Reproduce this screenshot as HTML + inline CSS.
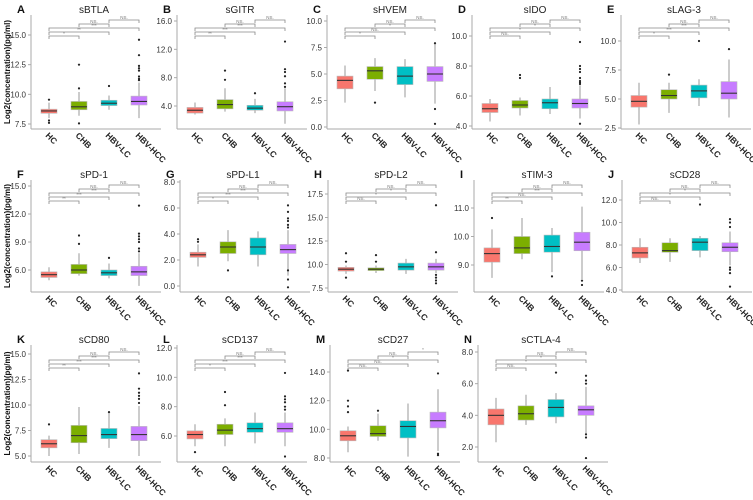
<!DOCTYPE html>
<html><head><meta charset="utf-8">
<style>
html,body{margin:0;padding:0;background:#fff;}
svg{display:block;font-family:"Liberation Sans",sans-serif;}
</style></head>
<body>
<svg id="fig" width="753" height="500" viewBox="0 0 753 500"></svg>
<script>
const categories = ["HC","CHB","HBV-LC","HBV-HCC"];
const colors = ["#F8766D","#7CAE00","#00BFC4","#C77CFF"];
const titles = ["sBTLA","sGITR","sHVEM","sIDO","sLAG-3","sPD-1","sPD-L1","sPD-L2","sTIM-3","sCD28","sCD80","sCD137","sCD27","sCTLA-4"];
const letters = ["A","B","C","D","E","F","G","H","I","J","K","L","M","N"];
const ticks_A=[7.5,10,12.5,15], ticks_B=[4,8,12,16], ticks_C=[0,2.5,5,7.5,10], ticks_D=[4,6,8,10], ticks_E=[2.5,5,7.5,10];
const ticks_F=[6,9,12,15], ticks_G=[0,2,4,6,8], ticks_H=[7.5,10,12.5,15,17.5], ticks_I=[9,10,11], ticks_J=[4,6,8,10,12];
const ticks_K=[5,7.5,10,12.5,15], ticks_L=[6,8,10,12], ticks_M=[8,10,12,14], ticks_N=[2,4,6,8];
const stats_A=[[8.0,8.4,8.6,8.75,9.3],[8.2,8.7,8.95,9.4,10.2],[8.7,9.05,9.25,9.5,9.9],[8.0,9.1,9.4,9.85,11.0]];
const stats_B=[[2.8,3.0,3.4,3.8,4.5],[3.2,3.6,4.2,4.9,6.5],[3.0,3.4,3.7,4.1,5.0],[1.5,3.3,3.9,4.6,6.5]];
const stats_C=[[2.3,3.6,4.4,4.8,5.8],[3.4,4.5,5.3,5.7,6.5],[2.8,4.0,4.8,5.7,6.4],[2.2,4.3,5.0,5.7,7.8]];
const stats_D=[[4.3,4.9,5.15,5.5,5.8],[4.7,5.2,5.4,5.7,5.9],[4.8,5.15,5.55,5.8,6.6],[4.5,5.2,5.5,5.8,6.7]];
const stats_E=[[2.8,4.3,4.8,5.3,6.4],[3.8,5.0,5.3,5.8,6.4],[4.4,5.1,5.7,6.2,6.7],[3.4,5.0,5.5,6.5,8.4]];
const stats_F=[[4.9,5.2,5.5,5.8,6.3],[5.4,5.6,6.0,6.6,7.8],[5.1,5.4,5.7,6.0,6.7],[4.3,5.4,5.8,6.4,7.8]];
const stats_G=[[1.5,2.2,2.4,2.6,3.2],[1.9,2.5,3.0,3.4,4.3],[1.5,2.4,3.0,3.7,4.2],[0.8,2.5,2.8,3.2,4.3]];
const stats_H=[[9.0,9.3,9.5,9.7,9.9],[9.1,9.35,9.5,9.65,9.9],[9.0,9.4,9.75,10.15,10.6],[9.1,9.4,9.75,10.15,10.6]];
const stats_I=[[8.55,9.1,9.4,9.6,10.25],[9.2,9.4,9.6,10.0,10.65],[8.75,9.45,9.65,10.05,10.3],[8.5,9.5,9.8,10.15,11.05]];
const stats_J=[[6.4,6.85,7.3,7.8,8.6],[6.5,7.35,7.5,8.2,8.6],[6.9,7.5,8.25,8.6,8.8],[6.2,7.4,7.8,8.2,9.2]];
const stats_K=[[5.0,5.8,6.2,6.6,7.0],[5.2,6.3,7.0,8.0,9.8],[5.8,6.7,7.1,7.7,9.2],[5.0,6.5,7.1,7.9,9.9]];
const stats_L=[[5.3,5.8,6.1,6.35,6.8],[5.3,6.1,6.4,6.8,7.2],[5.5,6.25,6.5,6.9,7.6],[5.3,6.25,6.5,6.9,7.6]];
const stats_M=[[8.4,9.2,9.55,9.9,10.2],[9.2,9.5,9.7,10.25,11.1],[8.1,9.4,10.2,10.6,11.8],[8.5,10.1,10.6,11.2,12.8]];
const stats_N=[[2.3,3.4,4.0,4.4,5.1],[3.4,3.7,4.1,4.6,5.3],[3.5,3.9,4.5,5.0,5.4],[2.8,4.0,4.35,4.6,5.8]];
const out_A=[[9.55,7.6,7.8],[10.5,12.5,7.55],[10.7],[11.2,11.3,11.5,12.0,12.2,12.4,13.3,14.6]];
const out_B=[[],[7.7,9.0],[5.8],[6.7,7.2,8.2,8.8,9.2,13.1]];
const out_C=[[],[2.3],[],[1.7,0.3,7.9]];
const out_D=[[],[7.2,7.4],[],[4.15,6.8,6.9,7.0,7.2,7.6,7.8,8.0,9.6]];
const out_E=[[],[7.1],[10.0],[9.3]];
const out_F=[[],[8.8,9.7],[7.3],[8.0,8.3,9.0,9.3,9.6,9.9,12.9]];
const out_G=[[3.4,3.6],[1.2],[],[-0.1,0.5,1.2,4.5,4.7,5.0,5.2,5.7,6.2]];
const out_H=[[8.6,10.3,11.2],[10.3,11.0],[],[8.9,8.6,8.3,8.0,11.3,16.3]];
const out_I=[[10.65],[],[8.6],[8.45,8.3]];
const out_J=[[],[],[11.6],[9.6,10.0,10.3,6.0,5.8,5.5,4.3]];
const out_K=[[8.1],[],[9.3],[10.2,10.6,10.9,11.2,11.6,13.1]];
const out_L=[[4.9],[8.1,9.0],[],[7.8,8.0,8.3,8.5,8.7,10.3,4.6]];
const out_M=[[11.2,11.6,12.0,14.1],[11.3],[],[13.9,8.2,8.3]];
const out_N=[[],[],[6.7],[6.0,6.2,6.5,2.6,2.8,1.3]];
const sig_A=["*","**","***","NS.","NS."], sig_B=["**","***","***","NS.","NS."], sig_C=["*","NS.","*","NS.","NS."];
const sig_D=["NS.","*","*","NS.","NS."], sig_E=["*","***","***","NS.","NS."], sig_F=["**","***","***","NS.","NS."];
const sig_G=["*","***","***","NS.","NS."], sig_H=["NS.","*","*","NS.","NS."], sig_I=["**","NS.","***","NS.","NS."];
const sig_J=["NS.","*","*","NS.","NS."], sig_K=["**","***","***","NS.","NS."], sig_L=["*","***","***","NS.","NS."];
const sig_M=["NS.","NS.","*","NS.","*"], sig_N=["NS.","*","*","NS.","NS."];

const allTicks=[ticks_A,ticks_B,ticks_C,ticks_D,ticks_E,ticks_F,ticks_G,ticks_H,ticks_I,ticks_J,ticks_K,ticks_L,ticks_M,ticks_N];
const allStats=[stats_A,stats_B,stats_C,stats_D,stats_E,stats_F,stats_G,stats_H,stats_I,stats_J,stats_K,stats_L,stats_M,stats_N];
const allOut=[out_A,out_B,out_C,out_D,out_E,out_F,out_G,out_H,out_I,out_J,out_K,out_L,out_M,out_N];
const allSig=[sig_A,sig_B,sig_C,sig_D,sig_E,sig_F,sig_G,sig_H,sig_I,sig_J,sig_K,sig_L,sig_M,sig_N];
const layout=[
 {ax:31,row:0,cal:[15,35,7.5,124]},{ax:177,row:0,cal:[16,21,4,106]},{ax:327,row:0,cal:[10,21,0,127]},
 {ax:472,row:0,cal:[10,36,4,126]},{ax:621,row:0,cal:[10,41,2.5,128]},
 {ax:31,row:1,cal:[15,186,6,270]},{ax:180,row:1,cal:[8,182,0,286]},{ax:328,row:1,cal:[17.5,194,7.5,288]},
 {ax:474,row:1,cal:[11,208,9,265]},{ax:622,row:1,cal:[12,200,4,290]},
 {ax:31,row:2,cal:[15,354,5,456]},{ax:177,row:2,cal:[12,348,6,436]},{ax:330,row:2,cal:[14,372,8,458]},
 {ax:478,row:2,cal:[8,352,2,447]}];
const rowTop=[0,165,330], rowAxis=[129,292,462];
const NS="http://www.w3.org/2000/svg";
const svg=document.getElementById('fig');
function mk(tag,attrs,parent,text){const e=document.createElementNS(NS,tag);for(const k in attrs)e.setAttribute(k,attrs[k]);if(text!==undefined)e.textContent=text;parent.appendChild(e);return e;}

layout.forEach((L,pi)=>{
  const g=mk('g',{},svg);
  
  
  const rt=rowTop[L.row], axY=rowAxis[L.row];
  const [v1,p1,v2,p2]=L.cal;
  const y=v=>p1+(v-v1)*(p2-p1)/(v2-v1);
  const x=i=>L.ax+18+i*30;
  const lt=mk('text',{x:L.ax-14,y:rt+13,'font-size':11,'font-weight':'bold',fill:'#111'},g,letters[pi]);
  
  
  const tt=mk('text',{x:L.ax+63,y:rt+13,'font-size':10,'text-anchor':'middle',fill:'#222'},g,titles[pi]);
  
  
  const ya=mk('line',{x1:L.ax,y1:rt+15,x2:L.ax,y2:axY,stroke:'#aaa','stroke-width':1},g);
  
  
  const xa=mk('line',{x1:L.ax,y1:axY,x2:L.ax+130,y2:axY,stroke:'#aaa','stroke-width':1},g);
  
  
  allTicks[pi].forEach(t=>{
    const yy=y(t);
    mk('line',{x1:L.ax-3,y1:yy,x2:L.ax,y2:yy,stroke:'#aaa'},g);
    const tl=mk('text',{x:L.ax-5,y:yy+3,'font-size':8,'text-anchor':'end',fill:'#333'},g,t.toFixed(1));
    
    
  });
  if(L.ax<40){
    const cy=(rt+15+axY)/2;
    const yl=mk('text',{x:10,y:cy,'font-size':8,'font-weight':'bold','text-anchor':'middle',fill:'#111',transform:`rotate(-90 10 ${cy})`},g,'Log2(concentration)(pg/ml)');
    
    
  }
  const pairs=[[0,1],[0,2],[0,3],[1,2],[2,3]];
  const levels=[36,32,28,24,20];
  pairs.forEach((pr,k)=>{
    const by=rt+levels[k]+(L.row===2?2:0);
    const x1=x(pr[0]),x2=x(pr[1]);
    const b=mk('path',{d:`M${x1},${by+3}V${by}H${x2}V${by+3}`,fill:'none',stroke:'#888','stroke-width':0.8},g);
    
    
    mk('text',{x:(x1+x2)/2,y:by-0.8,'font-size':4.5,'text-anchor':'middle',fill:'#777'},g,allSig[pi][k]);
  });
  allStats[pi].forEach((s,i)=>{
    const cx=x(i);
    const w=mk('line',{x1:cx,y1:y(s[0]),x2:cx,y2:y(s[4]),stroke:'#999','stroke-width':1},g);
    
    
    const bx=mk('rect',{x:cx-8,y:y(s[3]),width:16,height:Math.max(1,y(s[1])-y(s[3])),fill:colors[i],stroke:'#bbb','stroke-width':0.6},g);
    
    
    const md=mk('line',{x1:cx-8,y1:y(s[2]),x2:cx+8,y2:y(s[2]),stroke:'#333','stroke-width':1.1},g);
    
    
    allOut[pi][i].forEach(o=>{
      const c=mk('circle',{cx:cx,cy:y(o),r:1.1,fill:'#222'},g);
      
      
    });
    const lx=cx-4, ly=axY+7;
    const xl=mk('text',{x:lx,y:ly,'font-size':8.5,'font-weight':'bold',fill:'#222',transform:`rotate(45 ${lx} ${ly})`},g,categories[i]);
    
    
  });
});
</script>
</body></html>
